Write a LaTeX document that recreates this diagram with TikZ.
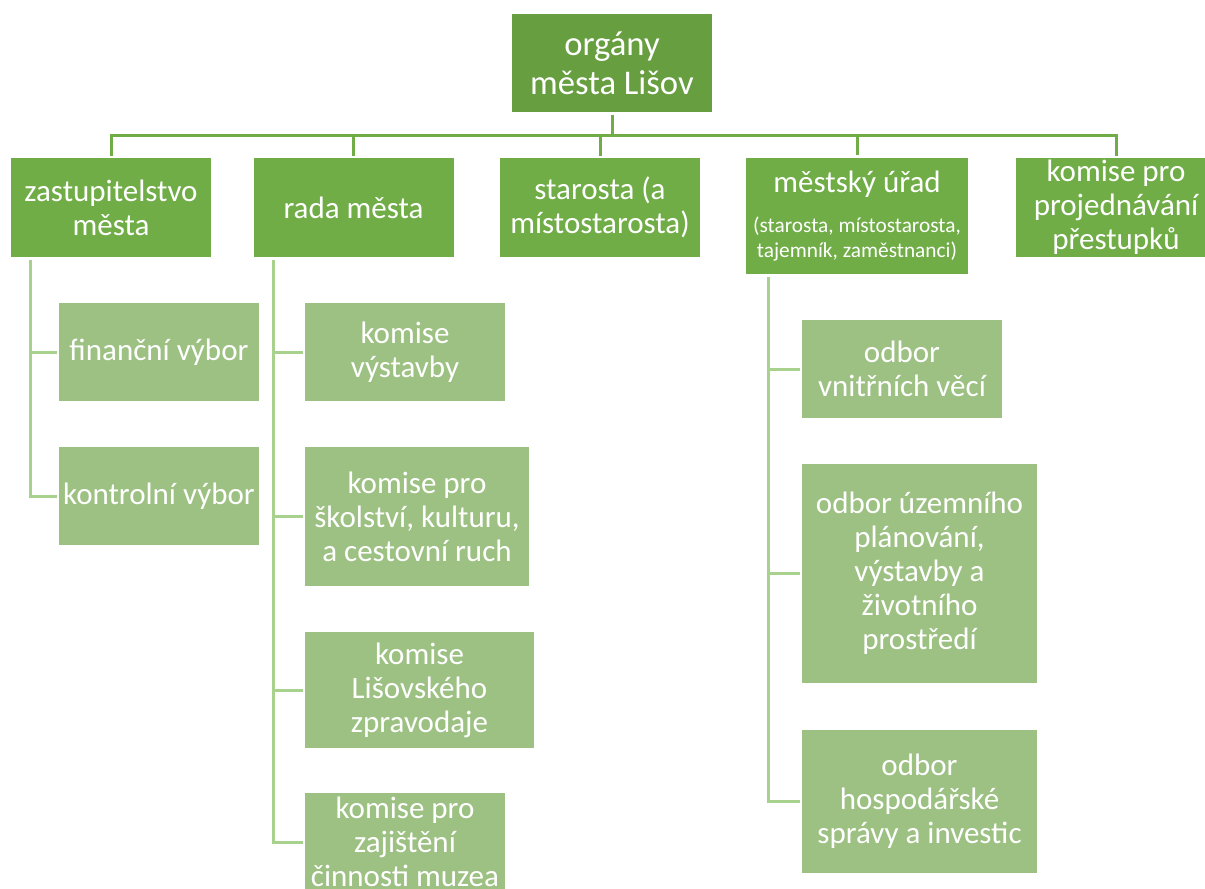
\documentclass[tikz,border=0pt]{standalone}
\usepackage{fontspec}
\setmainfont{Carlito}
\usetikzlibrary{positioning,calc}

\definecolor{topgreen}{HTML}{669E40}
\definecolor{midgreen}{HTML}{70AD47}
\definecolor{lightgreen}{HTML}{9DC183}
\definecolor{linegreen}{HTML}{A9D18E}

\newcommand{\topfont}{\fontsize{26pt}{29pt}\selectfont}
\newcommand{\boxfont}{\fontsize{23.25pt}{25.5pt}\selectfont}
\newcommand{\notefont}{\fontsize{16pt}{18.5pt}\selectfont}

\begin{document}
\begin{tikzpicture}[x=0.75pt, y=-0.75pt,
    orgbox/.style={fill=topgreen, text=white, align=center, inner sep=0pt,
        minimum width=150pt, minimum height=73.5pt, font=\topfont},
    unitbox/.style={fill=midgreen, text=white, align=center, inner sep=0pt,
        minimum width=150pt, minimum height=73.5pt, font=\boxfont},
    subbox/.style={fill=lightgreen, text=white, align=center, inner sep=0pt,
        minimum width=150pt, minimum height=73.5pt, font=\boxfont},
    mainline/.style={draw=midgreen, line width=2.25pt, shorten <=2pt, shorten >=2pt},
    subline/.style={draw=linegreen, line width=2.25pt, shorten >=1.5pt}]

    \useasboundingbox (0,0) rectangle (1205,888);

    % --- top: orgány města ---
    \node[orgbox] (organy) at (612,63) {orgány\\města Lišov};

    % --- second row ---
    \node[unitbox] (zastup) at (111,207.5) {zastupitelstvo\\města};
    \node[unitbox] (rada) at (353.5,207.5) {rada města};
    \node[unitbox] (starosta) at (600,207.5) {starosta (a\\místostarosta)};
    \node[unitbox, align=flush center, minimum width=166.5pt, minimum height=87pt, text width=166.5pt] (urad) at (857,216)
        {městský úřad\par\vspace{12pt}\notefont (starosta, místostarosta,\\tajemník, zaměstnanci)\par};
    \node[unitbox] (prest) at (1116,207.5) {komise pro\\projednávání\\přestupků};

    % --- výbory zastupitelstva ---
    \node[subbox] (financni) at (159,352) {finanční výbor};
    \node[subbox] (kontrolni) at (159,496) {kontrolní výbor};

    % --- komise rady ---
    \node[subbox] (vystavby) at (405,352) {komise\\výstavby};
    \node[subbox, minimum width=168pt, minimum height=104.25pt] (skolstvi) at (417,516.5)
        {komise pro\\školství, kulturu,\\a cestovní ruch};
    \node[subbox, minimum width=171.75pt, minimum height=87pt] (zpravodaj) at (419.5,690)
        {komise\\Lišovského\\zpravodaje};
    \node[subbox] (muzeum) at (405,842) {komise pro\\zajištění\\činnosti muzea};

    % --- odbory úřadu ---
    \node[subbox] (vnitrni) at (902,369) {odbor\\vnitřních věcí};
    \node[subbox, minimum width=176.25pt, minimum height=164.25pt] (uzemni) at (919.5,573.5)
        {odbor územního\\plánování,\\výstavby a\\životního\\prostředí};
    \node[subbox, minimum width=176.25pt, minimum height=107.25pt] (hospodar) at (919.5,801.5)
        {odbor\\hospodářské\\správy a investic};

    % --- connectors from the top ---
    \coordinate (hub) at (612,136);
    \foreach \n in {zastup,rada,starosta,urad,prest}
        \draw[mainline] (organy.south) -- (hub) -| (\n.north);

    % --- spines to the lower boxes ---
    \coordinate (zspine) at (30,260);
    \foreach \n in {financni,kontrolni}
        \draw[subline] (zspine) |- (\n.west);
    \coordinate (rspine) at (273,260);
    \foreach \n in {vystavby,skolstvi,zpravodaj,muzeum}
        \draw[subline] (rspine) |- (\n.west);
    \coordinate (uspine) at (768,277);
    \foreach \n in {vnitrni,uzemni,hospodar}
        \draw[subline] (uspine) |- (\n.west);

\end{tikzpicture}
\end{document}
